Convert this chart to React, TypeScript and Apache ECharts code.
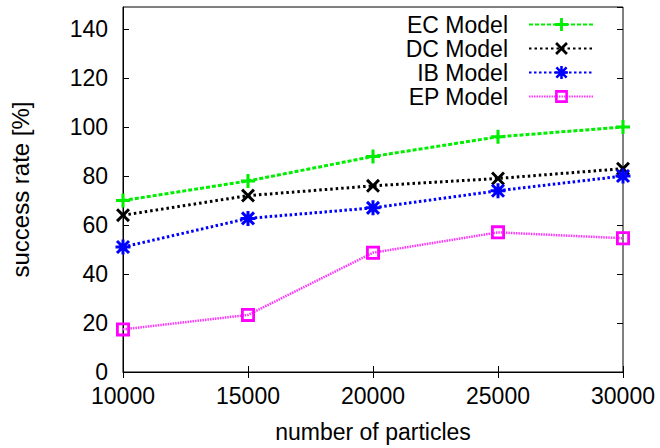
import React, { useEffect, useRef } from "react";
import * as echarts from "echarts";

const particles = [10000, 15000, 20000, 25000, 30000];
const ecModel = [70, 78, 88, 96, 100];
const dcModel = [64, 72, 76, 79, 83];
const ibModel = [51, 62.7, 67, 74, 80];
const epModel = [17.4, 23.3, 48.7, 57, 54.6];
const seriesNames = ["EC Model", "DC Model", "IB Model", "EP Model"];

const FONT = "'Liberation Sans', Arial, Helvetica, sans-serif";

const PLUS = "path://M3.9,0H6.1V3.9H10V6.1H6.1V10H3.9V6.1H0V3.9H3.9Z";
const CROSS =
  "path://M0,1.5L1.5,0L5,3.5L8.5,0L10,1.5L6.5,5L10,8.5L8.5,10L5,6.5L1.5,10L0,8.5L3.5,5Z";
const STAR =
  "path://M4,0H6V4H10V6H6V10H4V6H0V4H4Z M0.3,1.7L1.7,0.3L5,3.6L8.3,0.3L9.7,1.7L6.4,5L9.7,8.3L8.3,9.7L5,6.4L1.7,9.7L0.3,8.3L3.6,5Z";
const BOX = "path://M0,0H10V10H0Z M2,2V8H8V2Z";

function pairs(vals: number[]) {
  return particles.map((p, i) => [p, vals[i]]);
}

export default function App() {
  const ref = useRef<HTMLDivElement>(null);
  useEffect(() => {
    if (!ref.current) return;
    const chart = echarts.init(ref.current, undefined, { renderer: "svg" });
    const axisCommon = {
      type: "value" as const,
      axisTick: { inside: true, length: 6, lineStyle: { color: "#000", width: 1 } },
      splitLine: { show: false },
    };
    chart.setOption({
      animation: false,
      backgroundColor: "#fff",
      textStyle: { fontFamily: FONT },
      grid: {
        left: 122,
        right: 37,
        top: 7,
        bottom: 76,
        show: true,
        borderColor: "#000",
        borderWidth: 1,
        backgroundColor: "transparent",
      },
      legend: {
        orient: "vertical",
        align: "right",
        right: 65,
        top: 13,
        padding: 0,
        itemWidth: 65,
        itemHeight: 16,
        itemGap: 1,
        data: seriesNames,
        textStyle: {
          fontFamily: FONT,
          fontSize: 23,
          color: "#000",
          lineHeight: 23,
          padding: [0, 16, 0, 0],
        },
      },
      xAxis: [
        {
          ...axisCommon,
          min: 10000,
          max: 30000,
          interval: 5000,
          position: "bottom",
          name: "number of particles",
          nameLocation: "middle",
          nameGap: 48,
          nameTextStyle: { fontFamily: FONT, fontSize: 23, color: "#000" },
          axisLine: { show: true, lineStyle: { color: "#000", width: 1 } },
          axisLabel: {
            fontFamily: FONT,
            fontSize: 23,
            color: "#000",
            margin: 12,
            formatter: (v: number) => String(v),
          },
        },
        {
          ...axisCommon,
          min: 10000,
          max: 30000,
          interval: 5000,
          position: "top",
          axisLine: { show: false },
          axisLabel: { show: false },
        },
      ],
      yAxis: [
        {
          ...axisCommon,
          min: 0,
          max: 149,
          interval: 20,
          position: "left",
          name: "success rate [%]",
          nameLocation: "middle",
          nameGap: 91,
          nameTextStyle: { fontFamily: FONT, fontSize: 24, color: "#000" },
          axisLine: { show: true, lineStyle: { color: "#000", width: 1 } },
          axisLabel: {
            fontFamily: FONT,
            fontSize: 23,
            color: "#000",
            margin: 15,
            showMaxLabel: false,
          },
        },
        {
          ...axisCommon,
          min: 0,
          max: 149,
          interval: 20,
          position: "right",
          axisLine: { show: false },
          axisLabel: { show: false },
        },
      ],
      series: [
        {
          name: seriesNames[0],
          type: "line",
          data: pairs(ecModel),
          symbol: PLUS,
          symbolSize: 14,
          itemStyle: { color: "#00ee00" },
          lineStyle: { color: "#00ee00", width: 3, type: [4, 2] },
        },
        {
          name: seriesNames[1],
          type: "line",
          data: pairs(dcModel),
          symbol: CROSS,
          symbolSize: 14,
          itemStyle: { color: "#000000" },
          lineStyle: { color: "#000000", width: 3, type: [2.5, 3] },
        },
        {
          name: seriesNames[2],
          type: "line",
          data: pairs(ibModel),
          symbol: STAR,
          symbolSize: 15,
          itemStyle: { color: "#0000ff" },
          lineStyle: { color: "#0000ff", width: 3, type: [2.5, 2.5] },
        },
        {
          name: seriesNames[3],
          type: "line",
          data: pairs(epModel),
          symbol: BOX,
          symbolSize: 14,
          itemStyle: { color: "#ff00ff" },
          lineStyle: { color: "#ff33ff", width: 2.5, type: [1.5, 1] },
        },
      ],
    });
    return () => chart.dispose();
  }, []);
  return <div ref={ref} style={{ width: 660, height: 448, position: "absolute", left: 0, top: 0 }} />;
}
